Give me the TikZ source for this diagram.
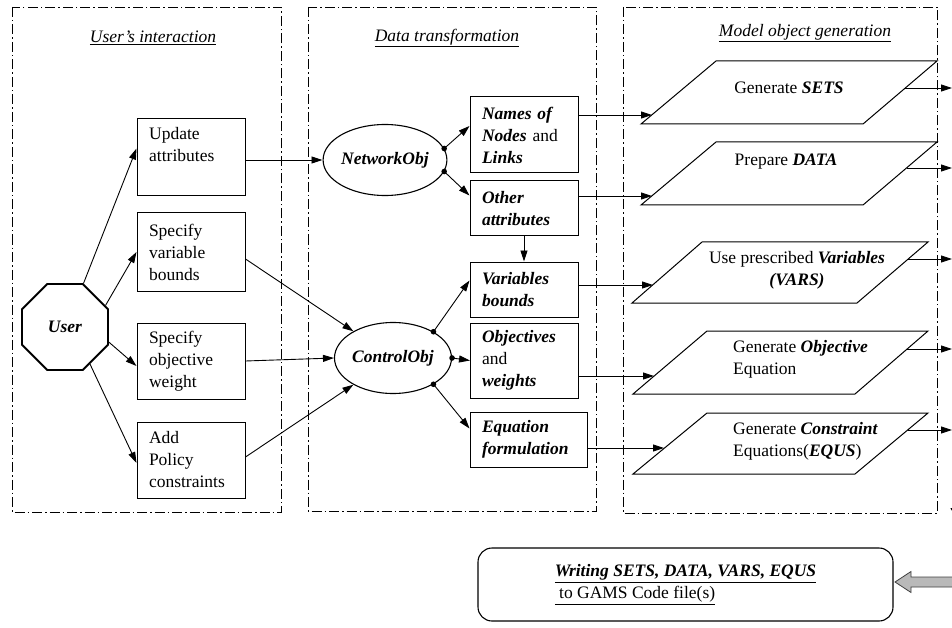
\documentclass[tikz,border=0pt]{standalone}
\usepackage{fontspec}
\setmainfont{Liberation Serif}
\usetikzlibrary{arrows.meta,shapes.geometric,calc}
\newcommand{\bfit}[1]{\textbf{\textit{#1}}}
\begin{document}
\begin{tikzpicture}[x=1pt,y=-1pt,
  font=\fontsize{17.5}{22}\selectfont,
  every node/.style={inner sep=0pt},
  ubox/.style={draw, line width=1pt, text width=84pt, inner xsep=12pt, align=left, minimum height=#1},
  ell/.style={draw, ellipse, line width=1.1pt, minimum width=#1, minimum height=71pt},
  para/.style={draw, line width=1pt},
  panel/.style={draw, line width=0.9pt, dash pattern=on 10pt off 3pt on 1.5pt off 3pt},
  arr/.style={draw, line width=0.9pt, -{Triangle[length=11pt,width=7pt]}},
  dotc/.style={fill=black}
]
\useasboundingbox (0,0) rectangle (952,628);

% panels
\draw[panel] (12,7) rectangle (281,512);
\draw[panel] (308,7) rectangle (596,511);
\draw[panel] (623,7) rectangle (937,513);

% titles
\node (t1) at (153,38) {\underline{\textit{User’s interaction}}};
\node (t2) at (447,38) {\underline{\textit{Data transformation}}};
\node (t3) at (805,33) {\underline{\textit{Model object generation}}};

% user
\node[draw, regular polygon, regular polygon sides=8, minimum size=93pt, line width=1.8pt] (user) at (65,327) {\bfit{User}};

% column 1 boxes
\node[ubox=77] (upd) at (191,157.5) {};
\node[anchor=north west, align=left] (updt) at (149,127) {Update\\attributes};
\node[ubox=78] (spv) at (191,252) {Specify\\variable\\bounds};
\node[ubox=76] (spo) at (191,361) {Specify\\objective\\weight};
\node[ubox=76] (adp) at (191,460) {Add\\Policy\\constraints};

% ellipses
\node[ell=119pt] (net) at (385,160) {\bfit{NetworkObj}};
\node[ell=117pt] (ctl) at (393,358) {\bfit{ControlObj}};

% column 2 boxes
\node[ubox=76] (names) at (524,135) {\bfit{Names of}\\\bfit{Nodes} and\\\bfit{Links}};
\node[ubox=55] (oth) at (524,208.5) {\bfit{Other}\\\bfit{attributes}};
\node[ubox=55] (vb) at (524,289.5) {\bfit{Variables}\\\bfit{bounds}};
\node[ubox=75] (obw) at (524,360.5) {\bfit{Objectives}\\and\\\bfit{weights}};
\node[ubox=55, text width=93pt] (eqf) at (528.5,439.5) {\bfit{Equation}\\\bfit{formulation}};

% parallelograms
\draw[para] (716,61) -- (937,61) -- (863,124) -- (641,124) -- cycle;
\draw[para] (716,142) -- (937,142) -- (863,205) -- (641,205) -- cycle;
\draw[para] (702,242) -- (928,242) -- (857,303) -- (632,303) -- cycle;
\draw[para] (707,331) -- (928,331) -- (855,394) -- (633,394) -- cycle;
\draw[para] (707,413) -- (928,413) -- (855,474) -- (633,474) -- cycle;

\node (setst) at (789,88) {Generate \bfit{SETS}};
\node (datat) at (786,162) {Prepare \bfit{DATA}};
\node[align=center] (varst) at (797,270.5) {Use prescribed \bfit{Variables}\\\bfit{(VARS)}};
\node[anchor=west, align=left] (objt) at (733,359.5) {Generate \bfit{Objective}\\Equation};
\node[anchor=west, align=left] (cont) at (733,441) {Generate \bfit{Constraint}\\Equations(\bfit{EQUS})};

% parallelogram connection points
\coordinate (setsin) at (652,115);
\coordinate (datain) at (652,196);
\coordinate (varsin) at (653,285);
\coordinate (objin) at (654,376);
\coordinate (conin) at (664,448);
\coordinate (setsout) at (905,88);
\coordinate (dataout) at (906.5,168);
\coordinate (varsout) at (908,259);
\coordinate (objout) at (907,349);
\coordinate (conout) at (907.7,430);
\coordinate (setsend) at (952,88);
\coordinate (dataend) at (952,168);
\coordinate (varsend) at (952,259);
\coordinate (objend) at (952,349);
\coordinate (conend) at (952,430);

% user arrows
\draw[arr] (user.67) -- ($(upd.west)+(0,-9)$);
\draw[arr] (user.28) -- (spv.west);
\draw[arr] (user.-19) -- ($(spo.west)+(0,5)$);
\draw[arr] (user.-56) -- ($(adp.west)+(0,3)$);

% col1 -> col2
\draw[arr] (net.west -| upd.east) -- (net.west);
\draw[arr] ($(spv.east)+(0,7)$) -- (ctl.146);
\draw[arr] (spo.east) -- (ctl.west);
\draw[arr] ($(adp.east)+(0,-3)$) -- (ctl.214);

% ellipse outputs
\draw[arr] (net.11) -- ($(names.west)+(0,-9)$);
\draw[arr] (net.-11) -- ($(oth.west)+(0,-13)$);
\fill[dotc] (net.11) circle[radius=2.8pt];
\fill[dotc] (net.-11) circle[radius=2.8pt];
\draw[arr] (oth.south) -- (vb.north);
\draw[arr] (ctl.33) -- ($(vb.west)+(0,-9)$);
\draw[arr] (ctl.east) -- (obw.west -| 470,0);
\draw[arr] (ctl.-33) -- ($(eqf.west)+(0,-11)$);
\fill[dotc] (ctl.33) circle[radius=2.8pt];
\fill[dotc] (ctl.east) circle[radius=2.8pt];
\fill[dotc] (ctl.-33) circle[radius=2.8pt];

% col2 -> col3
\draw[arr] (names.east |- setsin) -- (setsin);
\draw[arr] (oth.east |- datain) -- (datain);
\draw[arr] (vb.east |- varsin) -- (varsin);
\draw[arr] (obw.east |- objin) -- (objin);
\draw[arr] (eqf.east |- conin) -- (conin);

% col3 -> right
\draw[arr] (setsout) -- (setsend);
\draw[arr] (dataout) -- (dataend);
\draw[arr] (varsout) -- (varsend);
\draw[arr] (objout) -- (objend);
\draw[arr] (conout) -- (conend);

% partial down arrow at right edge
\coordinate (dtop) at (956,480);
\coordinate (dbot) at (956,518);
\draw[line width=0.9pt, -{Triangle[length=10pt,width=11pt]}] (dtop) -- (dbot);

% bottom box
\node[draw, rounded corners=14pt, line width=1.1pt, minimum width=415pt, minimum height=73pt, align=left] (gams) at (685.5,584.5)
  {\underline{\bfit{Writing SETS, DATA, VARS, EQUS}}\\\underline{\ to GAMS Code file(s)}};

% gray block arrow
\draw[fill=gray!55, draw=black!75, line width=0.8pt] (895,582) -- (911,571.5) -- (911,577) -- (962,577) -- (962,587) -- (911,587) -- (911,592.5) -- cycle;
\end{tikzpicture}
\end{document}
